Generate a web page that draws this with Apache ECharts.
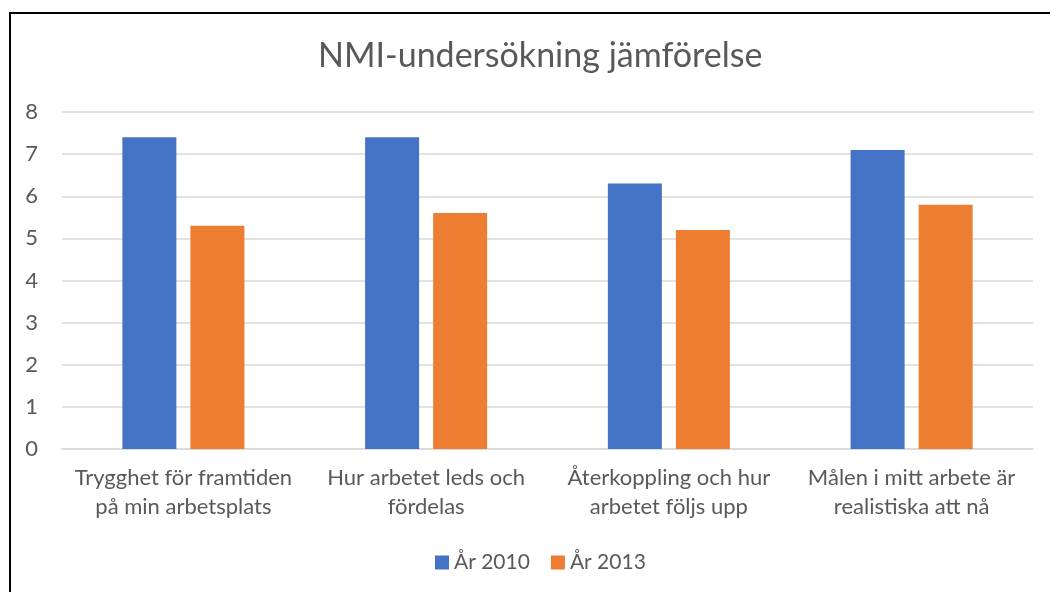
<!DOCTYPE html>
<html>
<head>
<meta charset="utf-8">
<script src="https://cdn.jsdelivr.net/npm/echarts@6/dist/echarts.min.js"></script>
<style>
  html, body { margin: 0; padding: 0; background: #fff; }
  #chart { width: 1050px; height: 592px; }
</style>
</head>
<body>
<div id="chart"></div>
<script>
// data
var categories = [
    'Trygghet för framtiden\npå min arbetsplats',
    'Hur arbetet leds och\nfördelas',
    'Återkoppling och hur\narbetet följs upp',
    'Målen i mitt arbete är\nrealistiska att nå'
];
var seriesNames = ['År 2010', 'År 2013'];
var values2010 = [7.4, 7.4, 6.3, 7.1];
var values2013 = [5.3, 5.6, 5.2, 5.8];
var yTicks = { min: 0, max: 8, interval: 1 };

var textColor = '#595959';
var font = 'Lato, "Open Sans", sans-serif';

var chart = echarts.init(document.getElementById('chart'));
chart.setOption({
    backgroundColor: '#fff',
    animation: false,
    title: {
        text: 'NMI-undersökning jämförelse',
        left: 313,
        top: 34,
        textStyle: { color: textColor, fontFamily: font, fontSize: 34, fontWeight: 'normal' }
    },
    legend: {
        data: seriesNames,
        left: 430,
        top: 547,
        itemWidth: 14,
        itemHeight: 14,
        itemGap: 21,
        icon: 'rect',
        textStyle: { color: textColor, fontFamily: font, fontSize: 21, padding: [0, 0, 0, 0] }
    },
    grid: { left: 62, right: 17, top: 112, bottom: 143, containLabel: false },
    xAxis: {
        type: 'category',
        data: categories,
        axisTick: { show: false },
        axisLine: { lineStyle: { color: '#d9d9d9', width: 1.5 } },
        axisLabel: {
            color: textColor, fontFamily: font, fontSize: 22,
            lineHeight: 29, margin: 14, interval: 0
        }
    },
    yAxis: {
        type: 'value',
        min: yTicks.min,
        max: yTicks.max,
        interval: yTicks.interval,
        axisLine: { show: false },
        axisTick: { show: false },
        splitLine: { lineStyle: { color: '#d9d9d9', width: 1.5 } },
        axisLabel: { color: textColor, fontFamily: font, fontSize: 22, margin: 24 }
    },
    series: [
        { name: seriesNames[0], type: 'bar', data: values2010, barWidth: 54, barGap: '26%',
          itemStyle: { color: '#4472C4' } },
        { name: seriesNames[1], type: 'bar', data: values2013, barWidth: 54,
          itemStyle: { color: '#ED7D31' } }
    ],
    graphic: [
        { type: 'line', shape: { x1: 10, y1: 13, x2: 1050, y2: 13 },
          style: { stroke: '#000', lineWidth: 2 } },
        { type: 'line', shape: { x1: 10, y1: 12, x2: 10, y2: 592 },
          style: { stroke: '#000', lineWidth: 2 } }
    ]
});
</script>
</body>
</html>
